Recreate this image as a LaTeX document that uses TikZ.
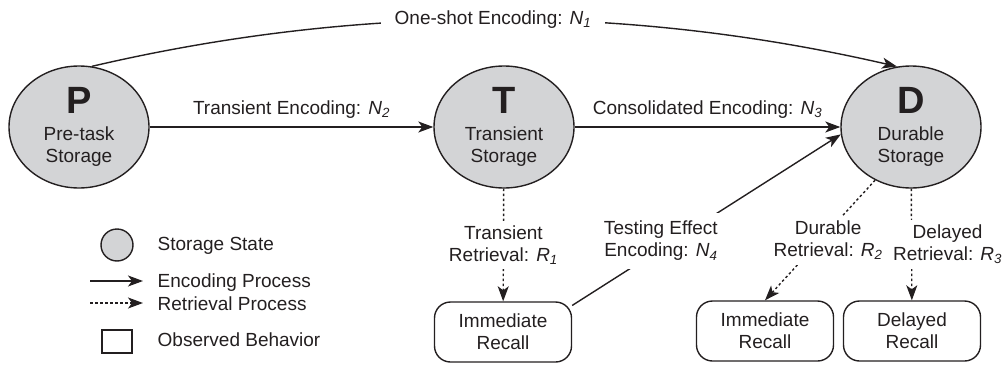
\documentclass[tikz,border=0pt]{standalone}
\usepackage{fontspec}
\setmainfont{Liberation Sans}
\usepackage{tikz}
\usetikzlibrary{arrows.meta,shapes.geometric}
\definecolor{statefill}{RGB}{211,212,214}
\definecolor{ink}{RGB}{35,31,32}
\newcommand{\idx}[2]{\textit{#1}\textsubscript{\textit{#2}}}
\newcommand{\stateletter}[1]{{\fontsize{38}{38}\selectfont\bfseries #1}}

\begin{document}
\begin{tikzpicture}[x=1pt,y=-1pt,>={Stealth[length=15pt,width=11pt,inset=4pt]},line width=1.4pt,color=ink,font=\fontsize{19}{22}\selectfont,
  state/.style={ellipse,draw,fill=statefill,minimum width=140pt,minimum height=122pt,inner sep=0pt,align=center},
  behav/.style={rectangle,draw,rounded corners=16pt,minimum width=137pt,minimum height=60pt,align=center},
  encode/.style={->},
  retrieve/.style={->,dash pattern=on 2.5pt off 2.5pt},
  tag/.style={fill=white,align=center,inner xsep=3pt,inner ysep=5pt},
  keytext/.style={anchor=base west,inner sep=0pt}]
\useasboundingbox (0,0) rectangle (1006,364);
\node[state] (P) at (79,127) {\stateletter{P}\\[5pt]Pre-task\\Storage};
\node[state] (T) at (504,127) {\stateletter{T}\\[5pt]Transient\\Storage};
\node[state] (D) at (911,127) {\stateletter{D}\\[5pt]Durable\\Storage};
\node[behav] (imm1) at (503,332) {Immediate\\Recall};
\node[behav] (imm2) at (765,331) {Immediate\\Recall};
\node[behav] (del) at (912,331) {Delayed\\Recall};
\draw[encode] (P.78) .. controls (359,4) and (626,4) .. (D.103) node[tag,midway,inner xsep=14pt] {One-shot Encoding: \idx{N}{1}};
\draw[encode] (P) -- node[above=5pt] {Transient Encoding: \idx{N}{2}} (T);
\draw[encode] (T) -- node[above=5pt] {Consolidated Encoding: \idx{N}{3}} (D);
\draw[encode] (imm1.21) -- node[tag,pos=0.33,yshift=8pt,inner ysep=8pt] {Testing Effect\\Encoding: \idx{N}{4}} (D.186);
\draw[retrieve] (T) -- node[tag] {Transient\\Retrieval: \idx{R}{1}} (imm1);
\draw[retrieve] (D.236) -- node[tag,xshift=8pt] {Durable\\Retrieval: \idx{R}{2}} (imm2.north);
\draw[retrieve] (D) -- node[tag,xshift=36pt] {Delayed\\Retrieval: \idx{R}{3}} (del);
\node[circle,draw,fill=statefill,minimum size=32pt,inner sep=0pt] (keystate) at (117,245) {};
\coordinate (keyencA) at (90,281);
\coordinate (keyencB) at (143,281);
\coordinate (keyretA) at (90,303);
\coordinate (keyretB) at (143,303);
\node[rectangle,draw,line width=1.2pt,minimum width=30pt,minimum height=23pt,inner sep=0pt] (keybox) at (117,341.5) {};
\draw[encode] (keyencA) -- (keyencB);
\draw[retrieve] (keyretA) -- (keyretB);
\node[keytext] (keystatetxt) at (157,250) {Storage State};
\node[keytext] (keyenctxt) at (157,287) {Encoding Process};
\node[keytext] (keyrettxt) at (157,310) {Retrieval Process};
\node[keytext] (keyboxtxt) at (157,346) {Observed Behavior};
\end{tikzpicture}
\end{document}
